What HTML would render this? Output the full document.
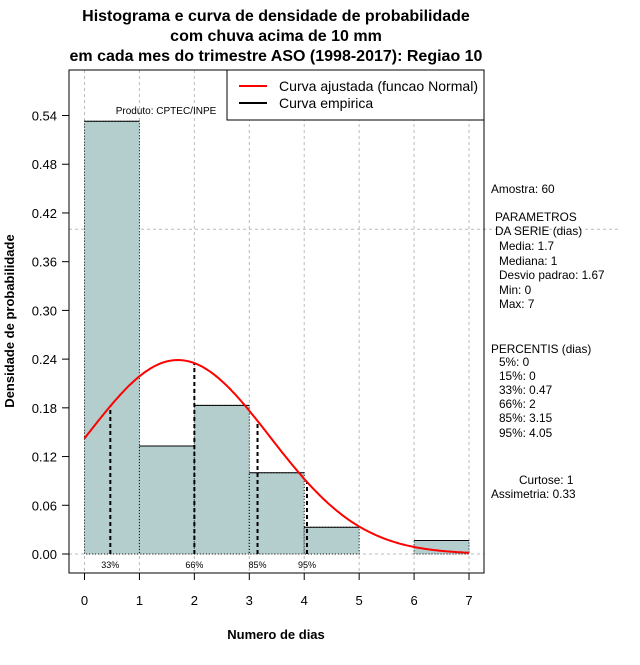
<!DOCTYPE html>
<html><head><meta charset="utf-8"><style>
body{margin:0;background:#fff;}
svg{font-family:"Liberation Sans",sans-serif;}
</style></head><body>
<svg id="c" width="640" height="660" xmlns="http://www.w3.org/2000/svg">
<g font-weight="bold" font-size="16" text-anchor="middle">
<text x="276" y="21">Histograma e curva de densidade de probabilidade</text>
<text x="276" y="41">com chuva acima de 10 mm</text>
<text x="276" y="61">em cada mes do trimestre ASO (1998-2017): Regiao 10</text>
</g>
<g id="grid"></g>
<g id="bars"></g>
<g id="pct"></g>
<path id="curve" fill="none" stroke="#f00" stroke-width="2"/>
<rect x="69" y="70" width="415" height="503" fill="none" stroke="#000"/>
<g id="axes" font-size="13"></g>
<text x="166" y="114" font-size="10" text-anchor="middle">Produto: CPTEC/INPE</text>
<g>
<rect x="227" y="70" width="257" height="50" fill="#fff" stroke="#000"/>
<line x1="239" y1="86" x2="267" y2="86" stroke="#f00" stroke-width="2"/>
<line x1="239" y1="103" x2="267" y2="103" stroke="#000" stroke-width="2"/>
<text x="279" y="91" font-size="14" textLength="199" lengthAdjust="spacingAndGlyphs">Curva ajustada (funcao Normal)</text>
<text x="279" y="108" font-size="14">Curva empirica</text>
</g>
<text x="276" y="639" font-size="13" font-weight="bold" text-anchor="middle">Numero de dias</text>
<text transform="translate(14,321) rotate(-90)" font-size="13" font-weight="bold" text-anchor="middle">Densidade de probabilidade</text>
<g font-size="11.8">
<text x="491" y="193">Amostra: 60</text>
<text x="495" y="221">PARAMETROS</text>
<text x="495" y="235">DA SERIE (dias)</text>
<text x="499" y="250">Media: 1.7</text>
<text x="499" y="265">Mediana: 1</text>
<text x="499" y="279">Desvio padrao: 1.67</text>
<text x="499" y="294">Min: 0</text>
<text x="499" y="308">Max: 7</text>
<text x="491" y="353">PERCENTIS (dias)</text>
<text x="499" y="366">5%: 0</text>
<text x="499" y="380">15%: 0</text>
<text x="499" y="394">33%: 0.47</text>
<text x="499" y="408">66%: 2</text>
<text x="499" y="422">85%: 3.15</text>
<text x="499" y="437">95%: 4.05</text>
<text x="519" y="484">Curtose: 1</text>
<text x="491" y="498">Assimetria: 0.33</text>
</g>
</svg>
<script>
const binStarts=[0,1,2,3,4,5,6];
const densities=[0.533,0.133,0.183,0.1,0.033,0,0.0167];
const xTicks=[0,1,2,3,4,5,6,7];
const yTicks=[0,0.06,0.12,0.18,0.24,0.30,0.36,0.42,0.48,0.54];
const pctValues=[0.47,2,3.15,4.05];
const pctLabels=["33%","66%","85%","95%"];
const mean=1.7, sd=1.67;
const NS="http://www.w3.org/2000/svg";
const X=v=>84.5+v*54.93;
const Y=v=>554-v*812;
function mk(t,a,p){const e=document.createElementNS(NS,t);for(const k in a)e.setAttribute(k,a[k]);p.appendChild(e);return e;}
const dens=x=>Math.exp(-((x-mean)**2)/(2*sd*sd))/(sd*Math.sqrt(2*Math.PI));
const grid=document.getElementById('grid');
xTicks.forEach(t=>{const l=mk('line',{x1:X(t),x2:X(t),y1:70,y2:573,stroke:'#bbb','stroke-dasharray':'3,3'},grid);

});
const h=mk('line',{x1:69,x2:620,y1:Y(0.40),y2:Y(0.40),stroke:'#bbb','stroke-dasharray':'3,3'},grid);


const b0=mk('line',{x1:69,x2:484,y1:Y(0),y2:Y(0),stroke:'#bbb','stroke-dasharray':'3,3'},grid);


const bars=document.getElementById('bars');
binStarts.forEach((s,i)=>{const d=densities[i];if(d<=0)return;
const r=mk('rect',{x:X(s),y:Y(d),width:X(s+1)-X(s),height:Y(0)-Y(d),fill:'#b4cece',stroke:'#000','stroke-dasharray':'1,2'},bars);


mk('line',{x1:X(s),x2:X(s+1),y1:Y(d),y2:Y(d),stroke:'#000'},bars);});
let p='';for(let x=0;x<=7.0001;x+=0.05)p+=(p?'L':'M')+X(x).toFixed(1)+','+Y(dens(x)).toFixed(1);
document.getElementById('curve').setAttribute('d',p);
const pct=document.getElementById('pct');
pctValues.forEach((v,i)=>{const l=mk('line',{x1:X(v),x2:X(v),y1:Y(0),y2:Y(dens(v)),stroke:'#000','stroke-width':2,'stroke-dasharray':'4,3'},pct);


const t=mk('text',{x:X(v),y:568,'font-size':9,'text-anchor':'middle'},pct);t.textContent=pctLabels[i];

});
const ax=document.getElementById('axes');
xTicks.forEach(t=>{mk('line',{x1:X(t),x2:X(t),y1:573,y2:580,stroke:'#000'},ax);
const e=mk('text',{x:X(t),y:605,'text-anchor':'middle'},ax);e.textContent=t;

});
yTicks.forEach(t=>{mk('line',{x1:62,x2:69,y1:Y(t),y2:Y(t),stroke:'#000'},ax);
const e=mk('text',{x:57,y:Y(t)+5,'text-anchor':'end'},ax);e.textContent=t.toFixed(2);

});
</script>
</body></html>
